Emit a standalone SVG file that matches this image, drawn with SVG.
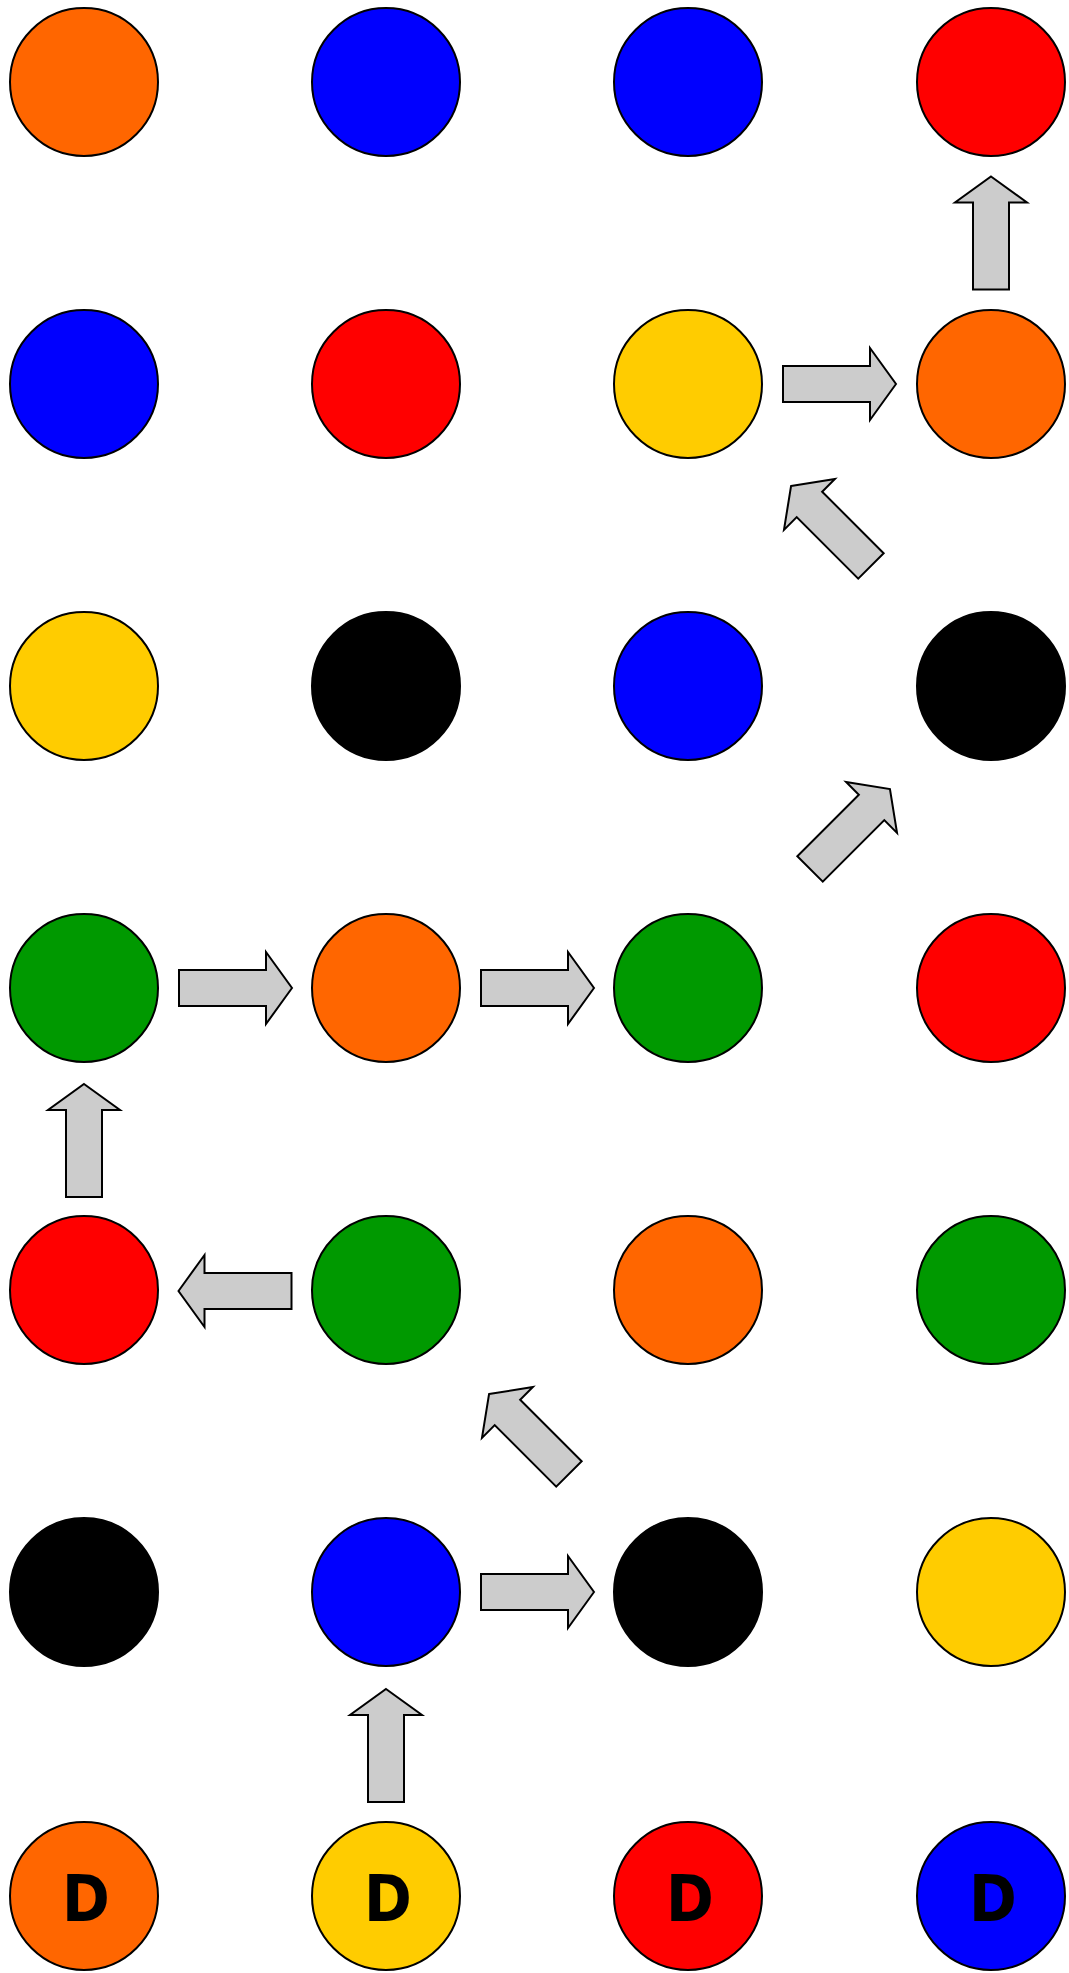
<svg xmlns="http://www.w3.org/2000/svg" xmlns:xlink="http://www.w3.org/1999/xlink" width="1069" height="1973" viewBox="0 0 1069 1973">
<style>
.n{stroke:#000;stroke-width:2}
.o{fill:#FF6600}.b{fill:#0000FF}.r{fill:#FF0000}.y{fill:#FFCC00}.k{fill:#000000}.g{fill:#009900}
.arr{fill:#CCCCCC;stroke:#000;stroke-width:2;stroke-linejoin:miter}
.lbl{font-family:"DejaVu Sans Condensed","DejaVu Sans",sans-serif;font-stretch:condensed;font-weight:bold;font-size:64px;fill:#000;text-anchor:middle}
</style>
<defs>
<path id="arrow" class="arr" d="M0,-56.5 L36,-30.5 L18,-30.5 L18,56.5 L-18,56.5 L-18,-30.5 L-36,-30.5 Z"/>
</defs>
<rect width="1069" height="1973" fill="#fff"/>
<g id="connectors">
<use xlink:href="#arrow" href="#arrow" transform="translate(991,233)"/>
<use xlink:href="#arrow" href="#arrow" transform="translate(839.5,384) rotate(90)"/>
<use xlink:href="#arrow" href="#arrow" transform="translate(831,526) rotate(-45)"/>
<use xlink:href="#arrow" href="#arrow" transform="translate(850,829) rotate(45)"/>
<use xlink:href="#arrow" href="#arrow" transform="translate(235.5,988) rotate(90)"/>
<use xlink:href="#arrow" href="#arrow" transform="translate(537.5,988) rotate(90)"/>
<use xlink:href="#arrow" href="#arrow" transform="translate(84,1140.5)"/>
<use xlink:href="#arrow" href="#arrow" transform="translate(235,1291) rotate(-90)"/>
<use xlink:href="#arrow" href="#arrow" transform="translate(529,1434) rotate(-45)"/>
<use xlink:href="#arrow" href="#arrow" transform="translate(537.5,1592) rotate(90)"/>
<use xlink:href="#arrow" href="#arrow" transform="translate(386,1745.5)"/>
</g>
<g id="r1c1"><circle class="n o" cx="84" cy="82" r="74"/></g>
<g id="r1c2"><circle class="n b" cx="386" cy="82" r="74"/></g>
<g id="r1c3"><circle class="n b" cx="688" cy="82" r="74"/></g>
<g id="r1c4"><circle class="n r" cx="991" cy="82" r="74"/></g>
<g id="r2c1"><circle class="n b" cx="84" cy="384" r="74"/></g>
<g id="r2c2"><circle class="n r" cx="386" cy="384" r="74"/></g>
<g id="r2c3"><circle class="n y" cx="688" cy="384" r="74"/></g>
<g id="r2c4"><circle class="n o" cx="991" cy="384" r="74"/></g>
<g id="r3c1"><circle class="n y" cx="84" cy="686" r="74"/></g>
<g id="r3c2"><circle class="n k" cx="386" cy="686" r="74"/></g>
<g id="r3c3"><circle class="n b" cx="688" cy="686" r="74"/></g>
<g id="r3c4"><circle class="n k" cx="991" cy="686" r="74"/></g>
<g id="r4c1"><circle class="n g" cx="84" cy="988" r="74"/></g>
<g id="r4c2"><circle class="n o" cx="386" cy="988" r="74"/></g>
<g id="r4c3"><circle class="n g" cx="688" cy="988" r="74"/></g>
<g id="r4c4"><circle class="n r" cx="991" cy="988" r="74"/></g>
<g id="r5c1"><circle class="n r" cx="84" cy="1290" r="74"/></g>
<g id="r5c2"><circle class="n g" cx="386" cy="1290" r="74"/></g>
<g id="r5c3"><circle class="n o" cx="688" cy="1290" r="74"/></g>
<g id="r5c4"><circle class="n g" cx="991" cy="1290" r="74"/></g>
<g id="r6c1"><circle class="n k" cx="84" cy="1592" r="74"/></g>
<g id="r6c2"><circle class="n b" cx="386" cy="1592" r="74"/></g>
<g id="r6c3"><circle class="n k" cx="688" cy="1592" r="74"/></g>
<g id="r6c4"><circle class="n y" cx="991" cy="1592" r="74"/></g>
<g id="r7c1"><circle class="n o" cx="84" cy="1896" r="74"/><text class="lbl" x="86" y="1921">D</text></g>
<g id="r7c2"><circle class="n y" cx="386" cy="1896" r="74"/><text class="lbl" x="388" y="1921">D</text></g>
<g id="r7c3"><circle class="n r" cx="688" cy="1896" r="74"/><text class="lbl" x="690" y="1921">D</text></g>
<g id="r7c4"><circle class="n b" cx="991" cy="1896" r="74"/><text class="lbl" x="993" y="1921">D</text></g>
</svg>
